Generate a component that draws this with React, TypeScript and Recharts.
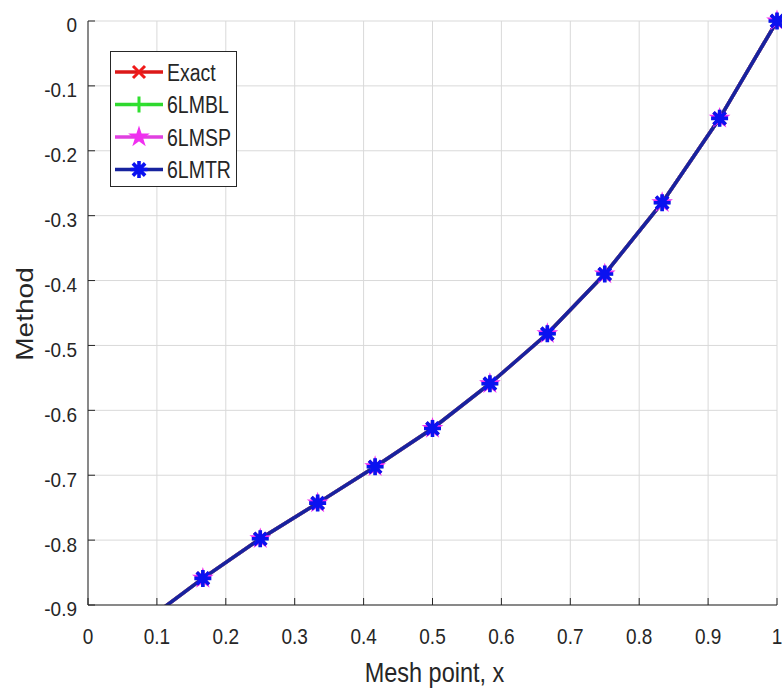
import { CartesianGrid, Legend, Line, LineChart, XAxis, YAxis } from "recharts";

const FONT = '"Liberation Sans", Arial, Helvetica, sans-serif';
const INK = "#262626";
const GRID = "#d9d9d9";

// mesh points (h = 1/12) and the four solutions
const meshX = [0.0833, 0.1667, 0.25, 0.3333, 0.4167, 0.5, 0.5833, 0.6667, 0.75, 0.8333, 0.9167, 1];
const exact = [-0.925, -0.859, -0.798, -0.743, -0.687, -0.628, -0.559, -0.482, -0.39, -0.28, -0.15, 0];
const lmbl = [-0.925, -0.859, -0.798, -0.743, -0.687, -0.628, -0.559, -0.482, -0.39, -0.28, -0.15, 0];
const lmsp = [-0.925, -0.859, -0.798, -0.743, -0.687, -0.628, -0.559, -0.482, -0.39, -0.28, -0.15, 0];
const lmtr = [-0.925, -0.859, -0.798, -0.743, -0.687, -0.628, -0.559, -0.482, -0.39, -0.28, -0.15, 0];

const xTicks = [0, 0.1, 0.2, 0.3, 0.4, 0.5, 0.6, 0.7, 0.8, 0.9, 1];
const yTicks = [-0.9, -0.8, -0.7, -0.6, -0.5, -0.4, -0.3, -0.2, -0.1, 0];

const rows = meshX.map((x, i) => ({
  x,
  exact: exact[i],
  lmbl: lmbl[i],
  lmsp: lmsp[i],
  lmtr: lmtr[i],
}));
// markers only where the point is inside the axes
const markerRows = rows.filter((r) => r.exact >= -0.9);

type Shape = "x" | "+" | "star" | "*";

const SERIES: { key: string; name: string; line: string; mark: string; shape: Shape }[] = [
  { key: "exact", name: "Exact", line: "#dc1818", mark: "#f01a1a", shape: "x" },
  { key: "lmbl", name: "6LMBL", line: "#2fd82f", mark: "#2fe02f", shape: "+" },
  { key: "lmsp", name: "6LMSP", line: "#e040e0", mark: "#f030f0", shape: "star" },
  { key: "lmtr", name: "6LMTR", line: "#17239e", mark: "#0a12f0", shape: "*" },
];

function Marker({ shape, cx, cy, color }: { shape: Shape; cx: number; cy: number; color: string }) {
  if (cx == null || cy == null) return null;
  if (shape === "x") {
    const r = 6;
    return (
      <path
        d={`M${cx - r},${cy - r}L${cx + r},${cy + r}M${cx - r},${cy + r}L${cx + r},${cy - r}`}
        stroke={color}
        strokeWidth={3}
        fill="none"
      />
    );
  }
  if (shape === "+") {
    const r = 8;
    return (
      <path
        d={`M${cx - r},${cy}L${cx + r},${cy}M${cx},${cy - r}L${cx},${cy + r}`}
        stroke={color}
        strokeWidth={3}
        fill="none"
      />
    );
  }
  if (shape === "star") {
    const R = 9;
    const r = R * 0.382;
    const pts: string[] = [];
    for (let k = 0; k < 10; k++) {
      const a = -Math.PI / 2 + (k * Math.PI) / 5;
      const rad = k % 2 === 0 ? R : r;
      pts.push(`${cx + rad * Math.cos(a)},${cy + rad * Math.sin(a)}`);
    }
    return <polygon points={pts.join(" ")} fill={color} stroke={color} strokeWidth={1.5} />;
  }
  const r = 8.5;
  const d = r * 0.72;
  return (
    <g>
      <circle cx={cx} cy={cy} r={4.5} fill={color} />
      <path
        d={`M${cx - r},${cy}L${cx + r},${cy}M${cx},${cy - r}L${cx},${cy + r}M${cx - d},${cy - d}L${cx + d},${cy + d}M${cx - d},${cy + d}L${cx + d},${cy - d}`}
        stroke={color}
        strokeWidth={3.6}
        fill="none"
      />
    </g>
  );
}

const XTick = (props: any) => {
  const { x, y, payload } = props;
  return (
    <g transform={`translate(${x},${y}) scale(1,1.2)`}>
      <text x={0} y={0} dy={13.6} textAnchor="middle" fontSize={19} fill={INK} fontFamily={FONT}>
        {String(payload.value)}
      </text>
    </g>
  );
};

const YTick = (props: any) => {
  const { x, y, payload } = props;
  return (
    <g transform={`translate(${x},${y}) scale(1,1.1)`}>
      <text x={0} y={0} dy={10.4} textAnchor="end" fontSize={19} fill={INK} fontFamily={FONT}>
        {String(payload.value)}
      </text>
    </g>
  );
};

const XTitle = (props: any) => {
  const vb = props.viewBox;
  return (
    <g transform={`translate(${vb.x + vb.width / 2 + 2},${vb.y + 77}) scale(1,1.2)`}>
      <text x={0} y={0} textAnchor="middle" fontSize={23.5} fill={INK} fontFamily={FONT}>
        Mesh point, x
      </text>
    </g>
  );
};

const YTitle = (props: any) => {
  const vb = props.viewBox;
  return (
    <g transform={`translate(${vb.x + 5},${vb.y + vb.height / 2 + 1}) rotate(-90) scale(1.22,1)`}>
      <text x={0} y={0} textAnchor="middle" fontSize={23} fill={INK} fontFamily={FONT}>
        Method
      </text>
    </g>
  );
};

const renderLegend = () => (
  <svg width={128} height={137} style={{ display: "block" }}>
    <rect x={0.5} y={0.5} width={126} height={135} fill="#ffffff" stroke={INK} strokeWidth={1} />
    {SERIES.map((s, i) => {
      const cy = 21 + i * 32.5;
      return (
        <g key={s.key}>
          <line x1={5} x2={53} y1={cy} y2={cy} stroke={s.line} strokeWidth={3.5} />
          <Marker shape={s.shape} cx={29} cy={cy} color={s.mark} />
          <g transform={`translate(57,${cy}) scale(1,1.25)`}>
            <text x={0} y={0} dy={7} fontSize={19.5} fill={INK} fontFamily={FONT}>
              {s.name}
            </text>
          </g>
        </g>
      );
    })}
  </svg>
);

export default function App() {
  return (
    <div style={{ position: "absolute", left: 0, top: 0, background: "#ffffff" }}>
      <LineChart width={782} height={693} margin={{ top: 21, right: 5, left: 28, bottom: 0 }}>
        <CartesianGrid stroke={GRID} strokeWidth={1} />
        <XAxis
          xAxisId={0}
          dataKey="x"
          type="number"
          domain={[0, 1]}
          ticks={xTicks}
          interval={0}
          height={88}
          stroke={INK}
          tickSize={-7}
          tickMargin={30}
          tick={<XTick />}
          label={{ content: XTitle }}
        />
        <XAxis
          xAxisId="top"
          orientation="top"
          dataKey="x"
          type="number"
          domain={[0, 1]}
          ticks={xTicks}
          interval={0}
          height={0}
          stroke={INK}
          tickSize={-7}
          tick={false}
        />
        <YAxis
          yAxisId={0}
          type="number"
          domain={[-0.9, 0]}
          allowDataOverflow
          ticks={yTicks}
          interval={0}
          width={60}
          stroke={INK}
          tickSize={-7}
          tickMargin={18}
          tick={<YTick />}
          label={{ content: YTitle }}
        />
        <YAxis
          yAxisId="right"
          orientation="right"
          type="number"
          domain={[-0.9, 0]}
          ticks={yTicks}
          interval={0}
          width={0}
          stroke={INK}
          tickSize={-7}
          tick={false}
        />
        <Legend
          layout="vertical"
          align="center"
          verticalAlign="middle"
          content={renderLegend}
          wrapperStyle={{ position: "absolute", left: 110, top: 51, width: 128, height: 137 }}
        />
        {SERIES.flatMap((s) => [
          <Line
            key={`${s.key}-line`}
            data={rows}
            dataKey={s.key}
            type="linear"
            stroke={s.line}
            strokeWidth={3.5}
            dot={false}
            activeDot={false}
            isAnimationActive={false}
          />,
          <Line
            key={`${s.key}-marks`}
            data={markerRows}
            dataKey={s.key}
            xAxisId="top"
            yAxisId="right"
            type="linear"
            stroke="none"
            strokeWidth={0}
            legendType="none"
            activeDot={false}
            dot={(p: any) => (
              <Marker key={`${s.key}-${p.index}`} shape={s.shape} cx={p.cx} cy={p.cy} color={s.mark} />
            )}
            isAnimationActive={false}
          />,
        ])}
      </LineChart>
    </div>
  );
}
